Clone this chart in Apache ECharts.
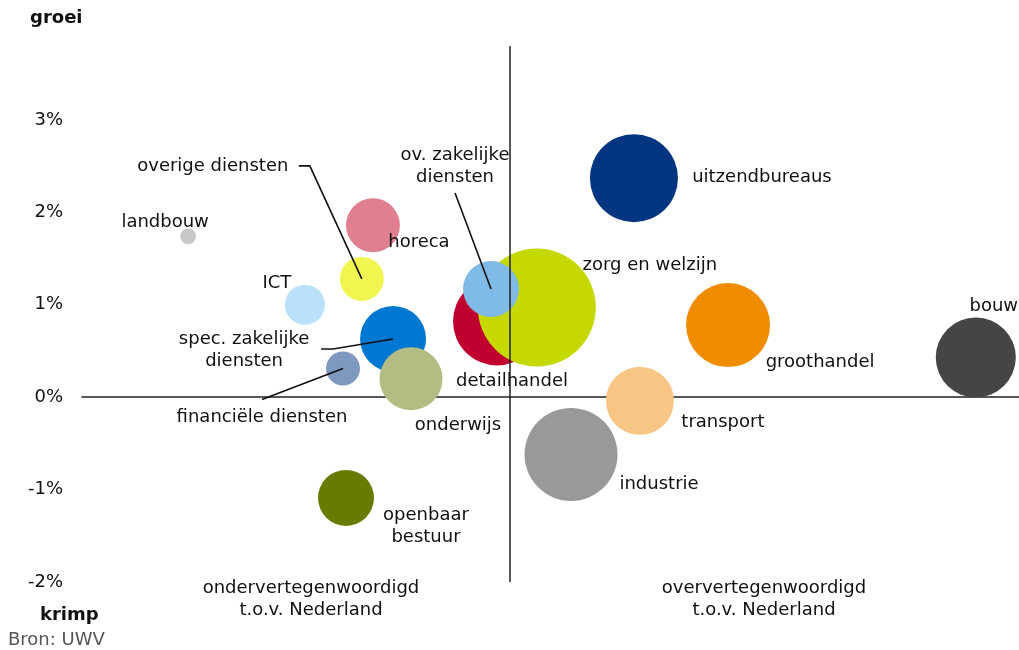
<!DOCTYPE html>
<html>
<head>
<meta charset="utf-8">
<script src="https://cdn.jsdelivr.net/npm/echarts@6/dist/echarts.min.js"></script>
<style>
html,body{margin:0;padding:0;background:#fff;}
#chart{width:1019px;height:650px;}
</style>
</head>
<body>
<div id="chart"></div>
<script>
// ---- data ----
const sectors = ['landbouw','horeca','overige diensten','ICT','spec. zakelijke\ndiensten','financiële diensten','onderwijs','openbaar\nbestuur','detailhandel','zorg en welzijn','ov. zakelijke\ndiensten','uitzendbureaus','groothandel','transport','industrie','bouw'];
const representation = [0.248,0.680,0.654,0.521,0.727,0.610,0.769,0.617,0.970,1.063,0.956,1.290,1.510,1.304,1.143,2.089];
const growth = [1.74,1.86,1.28,1.00,0.63,0.31,0.20,-1.09,0.82,0.97,1.17,2.37,0.78,-0.04,-0.62,0.43];
const employment = [1.8,20.9,13.9,11.5,31.3,8.3,28.5,22.5,55.6,100,22.5,55.6,50.7,33.2,62.1,46];
const yTicks = [-2,-1,0,1,2,3];

// ---- styles ----
const colors = ['#c8c8c8','#df7f90','#f0f550','#b9e1fa','#0078d2','#7e98c0','#b3bd83','#687b00','#c0002e','#c5d800','#80bbe8','#033581','#f08c00','#f7c584','#999999','#454545'];
const labelOffsets = [[-23,-14],[46,17],[-149,-113],[-28,-21],[-149,11],[-81,49],[47,47],[80,28],[15,60],[113,-42],[-36,-123],[128,-1],[92,37],[83,21],[88,30],[18,-51]];
// leader line polylines, pixel offsets relative to bubble centre
const leaders = {
  2: [[0,0],[-52,-113],[-63,-113]],
  4: [[0,0],[-60,10],[-72,10]],
  5: [[0,0],[-81,31]],
  10: [[0,0],[-36,-96]]
};
const FONT = 'DejaVu Sans';

const chart = echarts.init(document.getElementById('chart'), null, {renderer:'canvas'});

const scatterData = sectors.map((s,i)=>({
  name: s,
  value: [representation[i], growth[i], employment[i]],
  itemStyle: {color: colors[i], opacity: 1},
  label: {offset: labelOffsets[i]}
}));

const leaderData = Object.keys(leaders).map(k=>{
  const i = +k;
  return [representation[i], growth[i], i];
});

chart.setOption({
  animation: false,
  textStyle: {fontFamily: FONT},
  grid: {left: 82, right: 0, top: 46, bottom: 68},
  xAxis: {
    type: 'value', min: 0, max: 2.19,
    axisLine: {show: true, onZero: true, lineStyle: {color: '#222', width: 1.5}},
    axisTick: {show: false}, axisLabel: {show: false}, splitLine: {show: false}
  },
  yAxis: {
    type: 'value', min: yTicks[0], max: 3.8, interval: 1,
    axisLine: {show: false}, axisTick: {show: false}, splitLine: {show: false},
    axisLabel: {
      margin: 19, color: '#111', fontSize: 18, fontFamily: FONT,
      formatter: v => yTicks.indexOf(Math.round(v*1000)/1000) >= 0 ? v + '%' : ''
    }
  },
  series: [
    {
      type: 'scatter',
      data: scatterData,
      symbolSize: d => 118 * Math.sqrt(d[2] / 100),
      label: {
        show: true, position: 'inside', formatter: p => p.name,
        color: '#111', fontSize: 18, fontFamily: FONT, lineHeight: 22,
        align: 'center', verticalAlign: 'middle'
      },
      emphasis: {disabled: true},
      markLine: {
        silent: true, symbol: 'none', animation: false,
        label: {show: false},
        lineStyle: {color: '#222', width: 1.5, type: 'solid'},
        data: [{xAxis: 1}]
      },
      z: 2
    },
    {
      type: 'custom',
      data: leaderData,
      silent: true,
      z: 3,
      renderItem: (params, api) => {
        const c = api.coord([api.value(0), api.value(1)]);
        const idx = api.value(2);
        const pts = leaders[idx].map(o => [c[0] + o[0], c[1] + o[1]]);
        return {
          type: 'polyline',
          shape: {points: pts},
          style: {stroke: '#111', lineWidth: 1.6, fill: null}
        };
      }
    }
  ],
  graphic: [
    {type:'text', left: 30, top: 9, style:{text:'groei', font:'bold 18px "DejaVu Sans"', fill:'#111'}},
    {type:'text', left: 40, top: 606, style:{text:'krimp', font:'bold 18px "DejaVu Sans"', fill:'#111'}},
    {type:'text', left: 8, top: 631, style:{text:'Bron: UWV', font:'18px "DejaVu Sans"', fill:'#555'}},
    {type:'text', x: 311, y: 599, style:{text:'ondervertegenwoordigd\nt.o.v. Nederland', font:'18px "DejaVu Sans"', fill:'#111', align:'center', verticalAlign:'middle', lineHeight: 22}},
    {type:'text', x: 764, y: 599, style:{text:'oververtegenwoordigd\nt.o.v. Nederland', font:'18px "DejaVu Sans"', fill:'#111', align:'center', verticalAlign:'middle', lineHeight: 22}}
  ]
});
</script>
</body>
</html>
